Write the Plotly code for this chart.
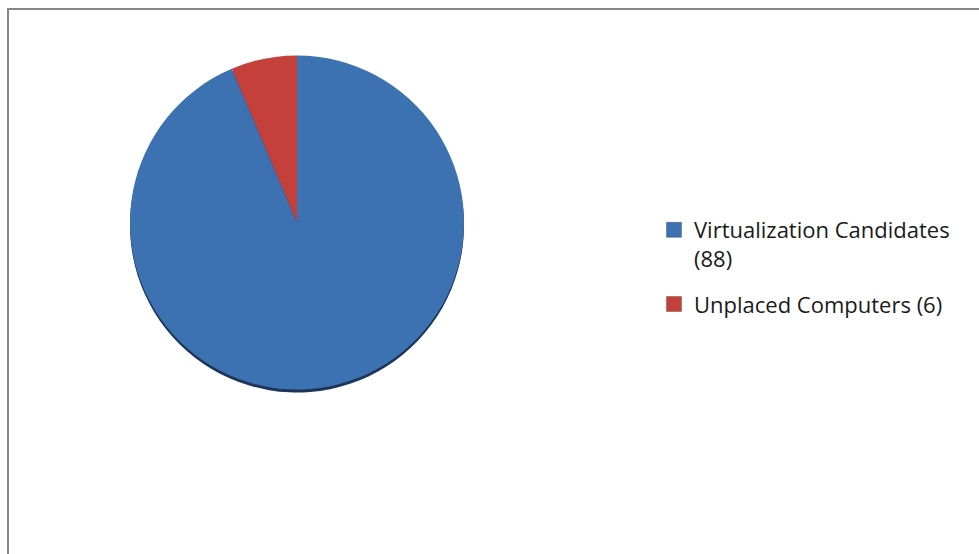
import plotly.graph_objects as go

labels = ["Virtualization Candidates<br>(88)", "Unplaced Computers (6)"]
values = [88, 6]
colors = ["#3c71b2", "#c4403a"]

W, H = 979, 554

def px(x):
    return x / W

def py(y):
    return 1 - y / H

# pie geometry (pixels)
cx, cy, r = 297.0, 222.5, 167

fig = go.Figure()

# soft shadow under pie
fig.add_trace(go.Pie(
    labels=labels, values=values, sort=False, direction="clockwise", rotation=0,
    marker=dict(colors=["#1c3556", "#1c3556"], line=dict(width=0)),
    textinfo="none", hoverinfo="skip", showlegend=False,
    domain=dict(x=[px(cx - r), px(cx + r)], y=[py(cy + r + 3), py(cy - r + 3)]),
))

fig.add_trace(go.Pie(
    labels=labels, values=values, sort=False, direction="clockwise", rotation=0,
    marker=dict(colors=colors, line=dict(width=0)),
    textinfo="none", showlegend=False,
    domain=dict(x=[px(cx - r), px(cx + r)], y=[py(cy + r), py(cy - r)]),
))

# legend entries (one per slice) so the item spacing can be controlled
for lab, col in zip(labels, colors):
    fig.add_trace(go.Scatter(
        x=[None], y=[None], mode="markers", name=lab, legendgroup=lab,
        marker=dict(symbol="square", size=15, color=col,
                    line=dict(width=1, color="rgba(0,0,0,0.25)")),
        showlegend=True,
    ))

fig.update_layout(
    width=W, height=H,
    margin=dict(l=0, r=0, t=0, b=0),
    paper_bgcolor="white",
    plot_bgcolor="white",
    xaxis=dict(visible=False),
    yaxis=dict(visible=False),
    font=dict(family="Open Sans, Lato, sans-serif", size=22, color="#1a1a1a"),
    legend=dict(
        x=px(654), y=py(209), xanchor="left", yanchor="top",
        bgcolor="rgba(0,0,0,0)", tracegroupgap=14, valign="top",
        itemwidth=30,
    ),
    shapes=[
        dict(type="line", xref="paper", yref="paper", x0=px(7), x1=px(979), y0=py(9), y1=py(9),
             line=dict(color="#878787", width=2)),
        dict(type="line", xref="paper", yref="paper", x0=px(8), x1=px(8), y0=py(8), y1=py(554),
             line=dict(color="#878787", width=2)),
    ],
)

fig.write_html("out.html")
